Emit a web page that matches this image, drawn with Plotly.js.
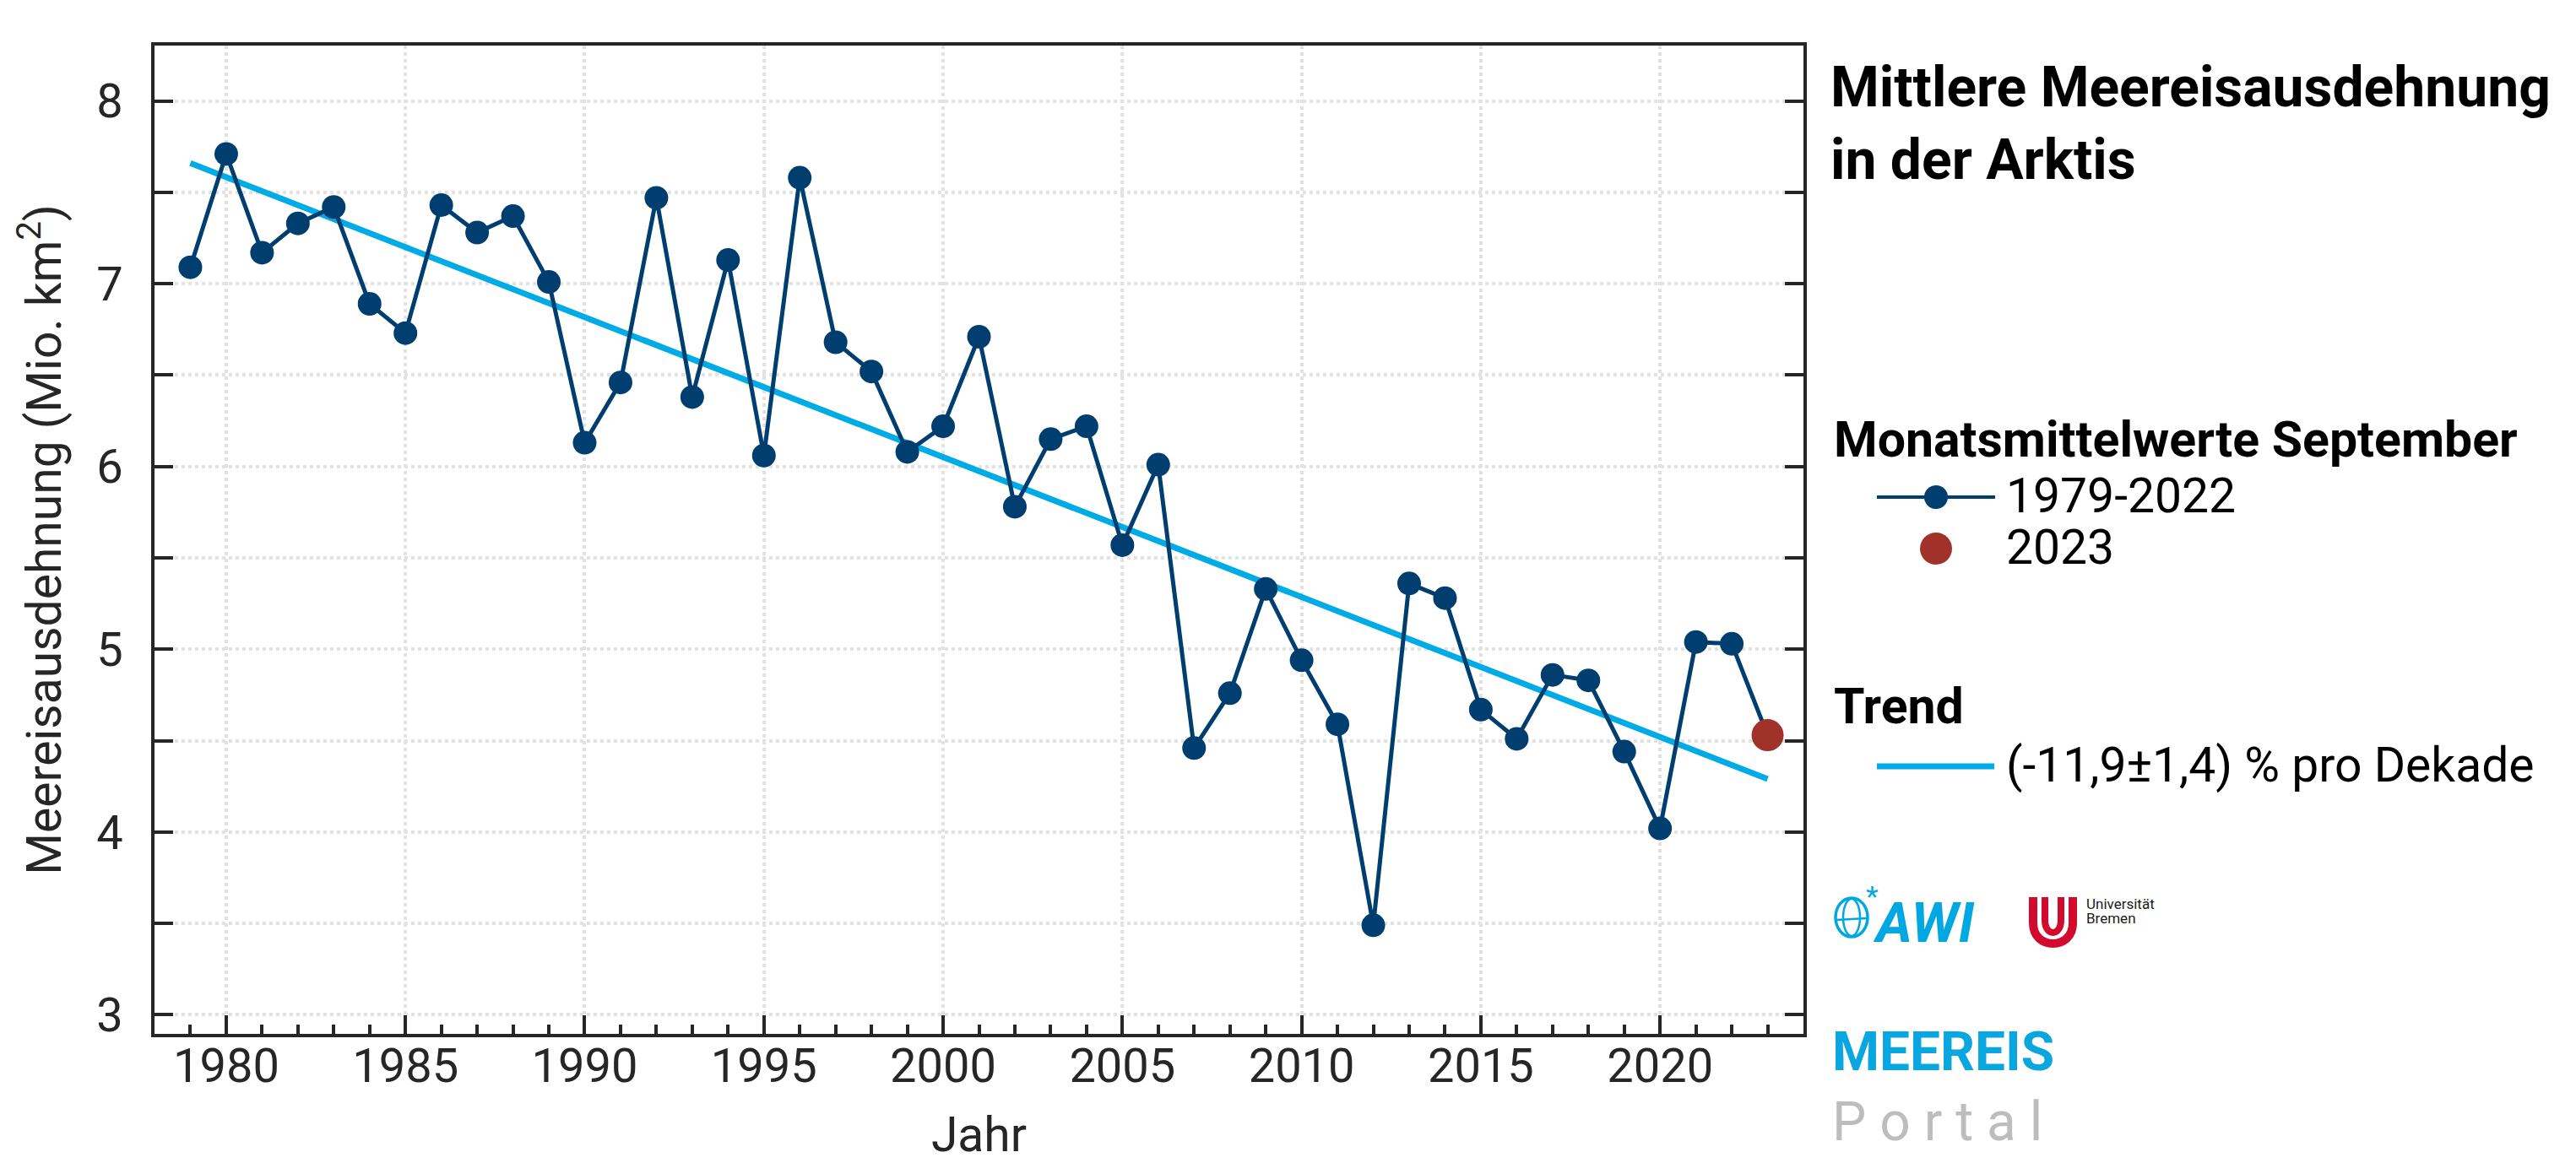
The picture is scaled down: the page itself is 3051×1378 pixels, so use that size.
<!DOCTYPE html>
<html>
<head>
<meta charset="utf-8">
<script src="https://cdn.plot.ly/plotly-3.0.1.min.js"></script>
<style>
html, body { margin: 0; padding: 0; background: #ffffff; }
#chart { width: 3051px; height: 1378px; }
</style>
</head>
<body>
<div id="chart"></div>
<script>
// ---------------- data ----------------
const years = [1979, 1980, 1981, 1982, 1983, 1984, 1985, 1986, 1987, 1988,
               1989, 1990, 1991, 1992, 1993, 1994, 1995, 1996, 1997, 1998,
               1999, 2000, 2001, 2002, 2003, 2004, 2005, 2006, 2007, 2008,
               2009, 2010, 2011, 2012, 2013, 2014, 2015, 2016, 2017, 2018,
               2019, 2020, 2021, 2022];
const extent = [7.09, 7.71, 7.17, 7.33, 7.42, 6.89, 6.73, 7.43, 7.28, 7.37,
                7.01, 6.13, 6.46, 7.47, 6.38, 7.13, 6.06, 7.58, 6.68, 6.52,
                6.08, 6.22, 6.71, 5.78, 6.15, 6.22, 5.57, 6.01, 4.46, 4.76,
                5.33, 4.94, 4.59, 3.49, 5.36, 5.28, 4.67, 4.51, 4.86, 4.83,
                4.44, 4.02, 5.04, 5.03];
const currentYear = [2023];
const currentExtent = [4.53];
const trendYears = [1979, 2023];
const trendExtent = [7.66, 4.29];

const titleLines = ['Mittlere Meereisausdehnung', 'in der Arktis'];
const seriesGroupTitle = 'Monatsmittelwerte September';
const seriesNames = ['1979-2022', '2023'];
const trendGroupTitle = 'Trend';
const trendName = '(-11,9±1,4) % pro Dekade';
const xTitle = 'Jahr';
const yTitle = 'Meereisausdehnung (Mio. km<sup>2</sup>)';
const xRange = [1978, 2024];
const yRange = [2.896, 8.303];

// ---------------- styling ----------------
const FONT = 'Roboto, "Liberation Sans", Arial, sans-serif';
const NAVY = '#003e70';
const RED = '#a1322a';
const CYAN = '#00abe6';
const AXIS = '#262626';
const GRID = '#e2e2e2';
const W = 3051, H = 1378;
const M = {l: 183, r: 915, t: 54, b: 153};
const PW = W - M.l - M.r, PH = H - M.t - M.b;
const px = X => (X - M.l) / PW;          // pixel -> paper x
const py = Y => (H - M.b - Y) / PH;      // pixel -> paper y

// ---------------- traces ----------------
const lineX = years.concat(currentYear);
const lineY = extent.concat(currentExtent);
const markerSizes = years.map(() => 28).concat([0]);

const traces = [
  {
    type: 'scatter', mode: 'lines', name: trendName,
    x: trendYears, y: trendExtent,
    line: {color: CYAN, width: 7},
    hoverinfo: 'skip', showlegend: false
  },
  {
    type: 'scatter', mode: 'lines+markers', name: seriesNames[0],
    x: lineX, y: lineY,
    line: {color: NAVY, width: 5},
    marker: {color: NAVY, size: markerSizes, opacity: 1, line: {width: 0}},
    showlegend: false
  },
  {
    type: 'scatter', mode: 'markers', name: seriesNames[1],
    x: currentYear, y: currentExtent,
    marker: {color: RED, size: 38, opacity: 1, line: {width: 0}},
    showlegend: false
  }
];

// ---------------- legend / side panel (drawn as layout decorations) ----------------
function txt(text, left, cy, size, opts) {
  return Object.assign({
    text: text, xref: 'paper', yref: 'paper', x: px(left), y: py(cy),
    xanchor: 'left', yanchor: 'middle', showarrow: false,
    font: {family: FONT, size: size, color: '#000000'}
  }, opts || {});
}

const annotations = [
  txt('<b>' + seriesGroupTitle + '</b>', 2170, 520, 59),
  txt(seriesNames[0], 2374, 587, 57),
  txt(seriesNames[1], 2374, 648, 57),
  txt('<b>' + trendGroupTitle + '</b>', 2170, 836, 59),
  txt(trendName, 2374, 906, 57),
  // logos / branding
  txt('<b><i>AWI</i></b>', 2216, 1093, 66, {font: {family: FONT, size: 66, color: '#00a8e1'}}),
  txt('*', 2208, 1062, 34, {font: {family: FONT, size: 34, color: '#00a8e1'}}),
  txt('Universität', 2469, 1071, 17, {font: {family: FONT, size: 17, color: '#1a1a1a'}}),
  txt('Bremen', 2469, 1088, 17, {font: {family: FONT, size: 17, color: '#1a1a1a'}}),
  txt('<b><span style="color:#0aa6df">MEEREIS</span></b><br><span style="color:#bdbdbd">P o r t a l</span>',
      2168, 1288, 64, {align: 'left', font: {family: FONT, size: 64, color: '#0aa6df'}})
];

function uPath(xl, xr, yTop, yBend, yBottom) {
  return 'M' + px(xl) + ',' + py(yTop) + ' L' + px(xl) + ',' + py(yBend) +
         ' C' + px(xl) + ',' + py(yBottom) + ' ' + px(xr) + ',' + py(yBottom) + ' ' + px(xr) + ',' + py(yBend) +
         ' L' + px(xr) + ',' + py(yTop);
}

const shapes = [
  // legend keys
  {type: 'line', xref: 'paper', yref: 'paper', x0: px(2223), x1: px(2363), y0: py(589), y1: py(589),
   line: {color: NAVY, width: 4}},
  {type: 'circle', xref: 'paper', yref: 'paper', x0: px(2279), x1: px(2307), y0: py(603), y1: py(575),
   fillcolor: NAVY, line: {width: 0}},
  {type: 'circle', xref: 'paper', yref: 'paper', x0: px(2274), x1: px(2312), y0: py(669), y1: py(631),
   fillcolor: RED, line: {width: 0}},
  {type: 'line', xref: 'paper', yref: 'paper', x0: px(2223), x1: px(2362), y0: py(908), y1: py(908),
   line: {color: CYAN, width: 7}},
  // AWI globe
  {type: 'circle', xref: 'paper', yref: 'paper', x0: px(2174), x1: px(2212), y0: py(1110), y1: py(1064),
   line: {color: '#00a8e1', width: 3.5}},
  {type: 'circle', xref: 'paper', yref: 'paper', x0: px(2183), x1: px(2203), y0: py(1109), y1: py(1065),
   line: {color: '#00a8e1', width: 2.5}},
  {type: 'line', xref: 'paper', yref: 'paper', x0: px(2175), x1: px(2211), y0: py(1090), y1: py(1088),
   line: {color: '#00a8e1', width: 2.5}},
  // Universität Bremen "U"
  {type: 'path', xref: 'paper', yref: 'paper', path: uPath(2408, 2455, 1063, 1094, 1126),
   line: {color: '#d20a2e', width: 10}},
  {type: 'path', xref: 'paper', yref: 'paper', path: uPath(2422, 2441, 1063, 1090, 1110),
   line: {color: '#d20a2e', width: 8}}
];

// ---------------- layout ----------------
const tickFont = {family: FONT, size: 56, color: AXIS};
const layout = {
  width: W, height: H,
  margin: {l: M.l, r: M.r, t: M.t, b: M.b, pad: 0},
  paper_bgcolor: '#ffffff', plot_bgcolor: '#ffffff',
  font: {family: FONT, size: 56, color: AXIS},
  showlegend: false,
  title: {
    text: '<b>' + titleLines.join('<br>') + '</b>',
    xref: 'container', yref: 'container',
    x: 2168 / W, y: 1 - 126 / H, xanchor: 'left', yanchor: 'middle',
    font: {family: FONT, size: 66, color: '#000000'}
  },
  xaxis: {
    range: xRange, tick0: 1980, dtick: 5,
    ticks: 'inside', ticklen: 22, tickwidth: 4, tickcolor: AXIS,
    showline: true, linecolor: AXIS, linewidth: 4, mirror: true,
    showgrid: true, gridcolor: GRID, gridwidth: 4, griddash: 'dot',
    zeroline: false, tickfont: tickFont, ticklabelstandoff: -14,
    minor: {dtick: 1, tick0: 1980, ticks: 'inside', ticklen: 11, tickwidth: 4, tickcolor: AXIS, showgrid: false},
    title: {text: xTitle, font: {family: FONT, size: 57, color: AXIS}, standoff: 36},
    automargin: false, fixedrange: true
  },
  xaxis2: {
    overlaying: 'x', side: 'top', anchor: 'y', range: xRange, tick0: 1980, dtick: 5,
    ticks: 'inside', ticklen: 22, tickwidth: 4, tickcolor: AXIS,
    showticklabels: false, showgrid: false, showline: false, zeroline: false,
    automargin: false, fixedrange: true
  },
  yaxis: {
    range: yRange, tick0: 0, dtick: 1,
    ticks: 'inside', ticklen: 22, tickwidth: 4, tickcolor: AXIS,
    showline: true, linecolor: AXIS, linewidth: 4, mirror: 'ticks',
    showgrid: true, gridcolor: GRID, gridwidth: 4, griddash: 'dot',
    zeroline: false, tickfont: tickFont, ticklabelstandoff: 22,
    minor: {dtick: 0.5, ticks: 'inside', ticklen: 22, tickwidth: 4, tickcolor: AXIS,
            showgrid: true, gridcolor: GRID, gridwidth: 4, griddash: 'dot'},
    title: {text: yTitle, font: {family: FONT, size: 57, color: AXIS}, standoff: 24},
    automargin: false, fixedrange: true
  },
  annotations: annotations,
  shapes: shapes
};

Plotly.newPlot('chart', traces, layout, {displayModeBar: false, staticPlot: true});
</script>
</body>
</html>
